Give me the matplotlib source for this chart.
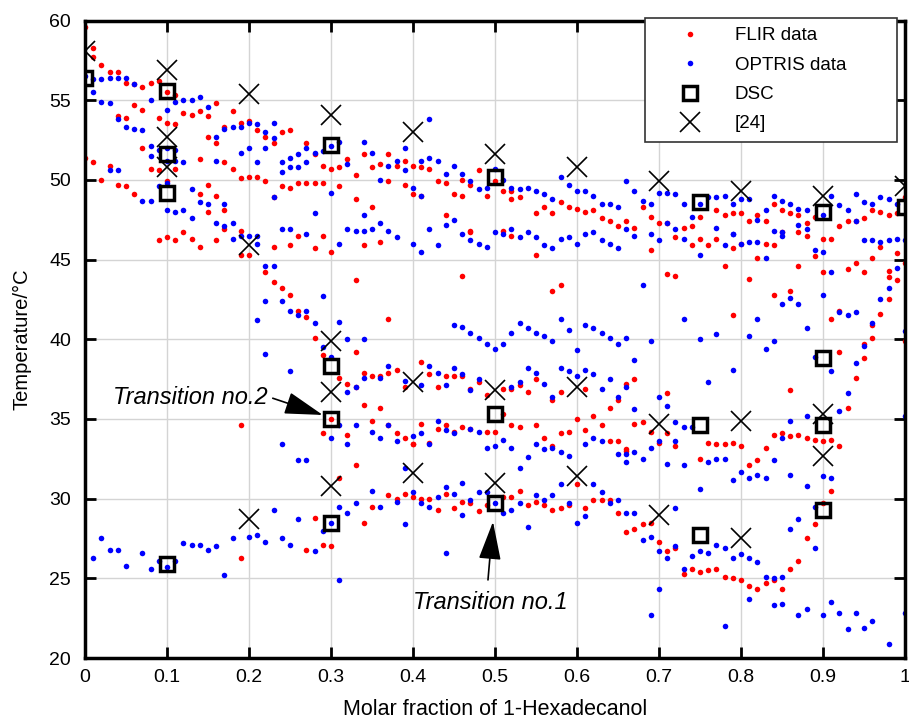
import numpy as np
import matplotlib.pyplot as plt

plt.rcParams['font.family'] = ['Liberation Sans', 'DejaVu Sans']

# FLIR camera readings (molar fraction, temperature in degC)
flir_high = [
    (0.00, 59.6), (0.01, 58.3), (0.01, 57.7), (0.02, 57.2), (0.03, 56.8), (0.04, 56.8), (0.05, 56.1),
    (0.06, 56.0), (0.07, 55.8), (0.08, 56.1), (0.09, 56.2), (0.10, 55.5), (0.11, 55.3),
    (0.04, 54.0), (0.05, 53.9), (0.06, 54.7), (0.07, 54.4), (0.09, 53.9), (0.10, 53.6), (0.11, 53.5),
    (0.12, 54.2), (0.13, 54.1), (0.14, 54.3), (0.15, 54.0), (0.16, 54.8), (0.18, 54.3),
    (0.15, 52.7), (0.16, 52.3), (0.17, 53.3), (0.19, 53.6), (0.20, 53.7), (0.21, 53.1), (0.22, 52.7),
    (0.23, 52.3), (0.24, 53.0), (0.25, 53.1), (0.27, 52.3), (0.28, 51.6), (0.29, 50.9), (0.30, 50.7),
    (0.31, 50.8), (0.07, 52.0), (0.08, 50.7), (0.09, 50.6), (0.10, 49.9), (0.11, 50.7), (0.14, 51.3),
    (0.15, 49.7), (0.17, 51.1), (0.18, 50.7), (0.19, 50.1), (0.20, 50.2), (0.21, 50.2), (0.22, 49.9),
    (0.23, 48.9), (0.24, 49.6), (0.25, 49.5), (0.26, 49.8), (0.27, 49.8), (0.28, 49.8), (0.29, 49.8),
    (0.31, 49.6), (0.00, 51.4), (0.01, 51.1), (0.02, 50.0), (0.03, 50.9), (0.04, 49.7), (0.05, 49.6),
    (0.06, 49.1), (0.14, 49.1), (0.15, 48.0), (0.16, 49.0), (0.17, 48.1), (0.19, 46.8),
    (0.32, 51.3), (0.33, 50.3), (0.33, 48.8), (0.34, 51.6), (0.35, 50.8), (0.36, 51.0), (0.37, 51.6),
    (0.37, 49.9), (0.35, 48.3), (0.38, 50.9), (0.39, 51.2), (0.39, 49.7), (0.40, 50.9), (0.40, 49.1),
    (0.41, 50.8), (0.41, 49.0), (0.42, 50.7), (0.43, 49.9), (0.44, 49.8), (0.44, 47.8), (0.45, 49.1),
    (0.46, 50.0), (0.46, 49.0), (0.47, 49.7), (0.48, 50.6), (0.49, 49.0), (0.50, 49.9), (0.51, 49.3),
    (0.52, 49.3), (0.52, 48.8), (0.53, 48.9), (0.55, 47.9), (0.56, 48.3), (0.57, 47.9), (0.58, 48.6),
    (0.59, 48.3), (0.60, 48.2), (0.61, 48.0), (0.62, 48.1), (0.63, 47.6), (0.64, 47.4), (0.65, 47.1),
    (0.66, 47.4), (0.47, 46.7), (0.51, 46.8),
    (0.68, 48.3), (0.69, 47.7), (0.67, 47.0), (0.70, 47.3), (0.71, 47.3), (0.73, 47.0), (0.74, 47.1),
    (0.75, 47.7), (0.77, 48.1), (0.78, 47.8), (0.79, 47.9), (0.80, 47.9), (0.81, 47.4), (0.82, 47.8),
    (0.83, 47.4), (0.84, 48.5), (0.85, 48.1), (0.86, 47.9), (0.87, 47.8), (0.88, 47.3), (0.89, 47.7),
    (0.92, 47.1), (0.93, 47.4), (0.94, 47.4), (0.95, 47.6), (0.96, 48.1), (0.97, 48.0), (0.98, 47.8),
    (0.99, 47.9), (1.00, 48.9),
]
flir_mid = [
    (0.09, 46.2), (0.10, 46.4), (0.11, 46.2), (0.12, 46.7), (0.13, 46.3), (0.14, 45.8), (0.16, 46.2),
    (0.17, 46.9), (0.19, 45.3), (0.20, 45.3), (0.23, 45.8), (0.25, 45.9), (0.26, 46.5), (0.28, 45.7),
    (0.29, 46.5), (0.30, 45.5), (0.22, 44.2), (0.23, 43.6), (0.24, 43.2), (0.25, 42.8), (0.26, 41.8),
    (0.27, 41.4), (0.28, 40.1), (0.29, 39.0), (0.31, 37.6), (0.19, 34.6), (0.29, 34.1), (0.30, 35.0),
    (0.34, 45.9), (0.36, 46.1), (0.33, 43.7), (0.37, 41.3), (0.46, 44.0), (0.47, 46.8), (0.52, 46.5),
    (0.55, 45.3), (0.57, 43.0), (0.58, 43.4), (0.33, 39.2),
    (0.32, 37.2), (0.33, 37.0), (0.34, 37.9), (0.35, 37.7), (0.36, 37.7), (0.37, 37.9), (0.38, 38.1),
    (0.39, 37.0), (0.41, 38.6), (0.42, 37.8), (0.43, 37.0), (0.44, 37.7), (0.45, 37.7), (0.46, 37.7),
    (0.47, 36.9), (0.48, 37.3), (0.49, 36.5), (0.51, 36.9), (0.52, 36.9), (0.53, 37.1), (0.54, 36.7),
    (0.55, 37.5), (0.57, 36.2), (0.58, 36.7), (0.60, 35.0), (0.61, 36.9), (0.62, 35.2), (0.64, 35.7),
    (0.65, 36.2), (0.34, 35.9), (0.36, 35.7), (0.35, 34.9), (0.32, 34.0), (0.37, 34.6), (0.38, 34.1),
    (0.39, 33.8), (0.40, 33.4), (0.41, 34.7), (0.42, 33.5), (0.43, 34.4), (0.44, 34.6), (0.45, 34.2),
    (0.46, 34.5), (0.47, 34.4), (0.49, 34.2), (0.50, 34.2), (0.51, 35.3), (0.52, 34.6), (0.53, 34.5),
    (0.55, 34.6), (0.56, 33.8), (0.57, 33.3), (0.58, 34.1), (0.59, 34.2), (0.61, 34.3), (0.63, 34.6),
    (0.64, 33.6), (0.65, 33.6), (0.66, 33.1),
    (0.69, 45.6), (0.72, 46.4), (0.74, 45.9), (0.75, 46.3), (0.76, 45.9), (0.77, 46.3), (0.79, 45.7),
    (0.80, 46.0), (0.82, 45.1), (0.83, 46.0), (0.84, 45.9), (0.85, 46.7), (0.87, 46.7), (0.88, 46.5),
    (0.89, 45.2), (0.90, 46.3), (0.91, 46.3), (0.71, 44.1), (0.72, 44.0), (0.78, 44.6), (0.81, 43.8),
    (0.84, 42.8), (0.86, 43.0), (0.87, 44.6), (0.90, 44.2), (0.91, 41.3), (0.92, 41.8), (0.93, 44.4),
    (0.94, 44.8), (0.95, 44.2), (0.96, 45.1), (0.97, 45.8), (0.98, 44.3), (0.99, 45.4), (0.98, 43.9),
    (0.99, 43.7), (0.98, 42.5), (0.97, 41.6), (0.96, 40.9), (0.96, 40.1), (0.95, 39.7), (0.95, 38.8),
    (0.94, 37.6), (0.93, 35.7), (0.92, 39.2), (1.00, 39.9), (1.00, 44.8), (0.79, 41.5), (0.86, 36.8),
    (0.66, 37.2), (0.67, 37.5), (0.71, 36.6), (0.67, 34.7), (0.68, 34.8), (0.69, 34.2), (0.71, 34.1),
    (0.70, 33.5), (0.72, 33.3), (0.76, 33.5), (0.77, 33.4), (0.78, 33.4), (0.79, 33.5), (0.80, 33.3),
    (0.83, 33.2), (0.84, 34.0), (0.85, 34.1), (0.86, 33.9), (0.87, 34.0), (0.88, 33.8), (0.89, 33.7),
    (0.90, 33.6), (0.91, 33.7), (0.92, 33.3),
]
flir_low = [
    (0.19, 26.3), (0.27, 26.8), (0.28, 28.8), (0.29, 27.1), (0.30, 27.0), (0.31, 31.3), (0.33, 32.1),
    (0.34, 28.5), (0.35, 29.5), (0.37, 30.2), (0.38, 30.0), (0.39, 30.3), (0.40, 30.1), (0.41, 30.0),
    (0.42, 30.0), (0.43, 29.3), (0.44, 30.3), (0.45, 29.4), (0.46, 29.8), (0.47, 29.7), (0.48, 29.2),
    (0.49, 29.6), (0.51, 30.1), (0.52, 30.1), (0.53, 30.5), (0.54, 29.6), (0.55, 29.8), (0.56, 29.6),
    (0.57, 29.3), (0.58, 29.4), (0.59, 29.6), (0.60, 30.9), (0.61, 29.4), (0.62, 29.9), (0.63, 29.9),
    (0.64, 29.9), (0.65, 29.1), (0.66, 27.9), (0.40, 33.4), (0.66, 33.0),
    (0.67, 28.1), (0.68, 28.4), (0.69, 28.5), (0.70, 27.3), (0.71, 26.7), (0.72, 26.9), (0.73, 25.3),
    (0.74, 25.6), (0.75, 25.4), (0.76, 25.5), (0.77, 25.6), (0.78, 25.1), (0.79, 25.0), (0.80, 24.9),
    (0.81, 24.5), (0.82, 24.3), (0.83, 24.7), (0.84, 24.9), (0.85, 24.3), (0.86, 25.6), (0.87, 26.1),
    (0.88, 27.5), (0.89, 28.4), (0.90, 29.7), (0.91, 30.5), (0.75, 32.5), (0.81, 32.1), (0.82, 32.4),
]

# OPTRIS camera readings
optris_high = [
    (0.00, 56.5), (0.01, 56.3), (0.01, 55.5), (0.02, 56.3), (0.03, 56.4), (0.04, 56.4), (0.05, 56.4),
    (0.06, 56.0), (0.02, 54.9), (0.03, 54.8), (0.04, 53.8), (0.05, 53.3), (0.06, 53.2), (0.07, 53.1),
    (0.08, 55.0), (0.10, 54.4), (0.11, 54.9), (0.12, 55.0), (0.13, 55.0), (0.14, 55.2), (0.15, 54.6),
    (0.08, 52.1), (0.08, 51.5), (0.09, 51.9), (0.10, 52.0), (0.11, 51.9), (0.11, 51.2), (0.12, 51.1),
    (0.10, 51.2), (0.16, 52.7), (0.17, 53.2), (0.18, 53.3), (0.19, 53.3), (0.20, 53.6), (0.21, 53.5),
    (0.22, 53.0), (0.23, 53.6), (0.23, 52.6), (0.19, 51.7), (0.20, 52.0), (0.21, 51.1), (0.22, 52.0),
    (0.16, 51.2), (0.27, 52.0), (0.28, 51.7), (0.29, 51.8), (0.30, 52.1), (0.24, 51.1), (0.25, 51.4),
    (0.26, 51.6), (0.24, 50.5), (0.25, 50.8), (0.26, 50.8), (0.27, 51.1), (0.30, 49.2), (0.03, 50.6),
    (0.04, 50.6), (0.07, 48.7), (0.08, 48.7), (0.09, 49.6), (0.10, 49.8), (0.10, 48.1), (0.11, 48.0),
    (0.12, 48.1), (0.13, 47.6), (0.13, 49.4), (0.14, 48.6), (0.15, 48.5), (0.16, 47.3), (0.17, 47.1),
    (0.17, 48.5), (0.18, 47.3), (0.23, 48.9), (0.24, 46.9), (0.25, 46.9), (0.28, 47.9),
    (0.31, 52.4), (0.32, 51.0), (0.34, 52.4), (0.35, 51.7), (0.36, 50.0), (0.37, 50.9), (0.38, 51.2),
    (0.39, 52.0), (0.39, 50.6), (0.40, 49.5), (0.41, 51.2), (0.41, 49.0), (0.42, 51.4), (0.42, 53.8),
    (0.43, 51.2), (0.44, 50.4), (0.45, 50.9), (0.46, 50.4), (0.47, 49.9), (0.48, 49.4), (0.49, 49.5),
    (0.50, 50.7), (0.51, 50.0), (0.52, 49.5), (0.53, 49.4), (0.54, 49.5), (0.55, 49.3), (0.56, 49.1),
    (0.57, 48.8), (0.58, 50.2), (0.59, 49.7), (0.60, 49.3), (0.61, 49.3), (0.62, 49.0), (0.63, 48.5),
    (0.64, 48.5), (0.65, 48.3), (0.66, 49.9), (0.66, 46.9), (0.32, 46.9), (0.33, 46.8), (0.34, 46.8),
    (0.35, 46.9), (0.36, 47.3), (0.37, 46.8), (0.34, 47.8), (0.42, 46.9), (0.44, 47.2), (0.45, 47.5),
    (0.46, 46.6), (0.50, 46.7), (0.51, 46.6), (0.52, 46.9), (0.54, 46.7), (0.61, 46.6), (0.62, 46.7),
    (0.67, 49.3), (0.68, 48.7), (0.69, 48.5), (0.70, 49.2), (0.71, 49.2), (0.72, 49.1), (0.73, 48.5),
    (0.74, 47.7), (0.75, 48.5), (0.76, 48.9), (0.77, 48.9), (0.78, 49.0), (0.79, 48.5), (0.80, 48.8),
    (0.81, 48.8), (0.83, 48.1), (0.84, 49.0), (0.85, 48.7), (0.86, 48.5), (0.87, 48.2), (0.88, 48.1),
    (0.90, 47.8), (0.91, 49.0), (0.92, 48.4), (0.93, 48.1), (0.94, 49.1), (0.95, 48.6), (0.96, 48.5),
    (0.97, 48.9), (0.98, 48.8), (0.99, 48.5), (0.71, 47.3), (0.72, 46.9), (0.77, 47.0), (0.79, 46.6),
    (0.82, 47.5), (0.85, 46.7), (0.87, 47.2), (0.88, 46.9), (0.94, 47.4),
]
optris_mid = [
    (0.18, 46.3), (0.19, 46.5), (0.20, 46.5), (0.21, 46.5), (0.21, 46.0), (0.27, 46.6), (0.22, 44.6),
    (0.23, 44.6), (0.22, 42.4), (0.24, 42.4), (0.25, 41.8), (0.26, 41.5), (0.27, 41.8), (0.28, 41.0),
    (0.29, 42.7), (0.21, 41.2), (0.22, 39.1), (0.25, 38.0), (0.29, 39.5), (0.30, 38.9), (0.31, 46.0),
    (0.31, 41.1), (0.30, 33.8), (0.24, 33.4),
    (0.38, 46.4), (0.40, 46.0), (0.41, 45.5), (0.43, 45.9), (0.47, 46.2), (0.48, 46.0), (0.49, 45.8),
    (0.53, 46.4), (0.55, 46.4), (0.56, 45.9), (0.57, 45.7), (0.58, 46.3), (0.59, 46.4), (0.60, 46.0),
    (0.63, 46.2), (0.64, 46.0), (0.65, 45.7), (0.32, 40.0), (0.34, 40.0), (0.45, 40.9), (0.46, 40.8),
    (0.47, 40.4), (0.48, 40.1), (0.49, 39.7), (0.50, 39.4), (0.51, 39.7), (0.52, 40.4), (0.53, 41.0),
    (0.54, 40.7), (0.55, 40.4), (0.56, 40.2), (0.57, 39.9), (0.58, 41.3), (0.59, 40.6), (0.60, 39.3),
    (0.61, 40.9), (0.62, 40.7), (0.63, 40.4), (0.64, 40.1), (0.65, 39.7), (0.66, 40.1),
    (0.32, 36.7), (0.33, 37.0), (0.34, 37.6), (0.36, 37.6), (0.37, 38.3), (0.39, 37.4), (0.41, 37.1),
    (0.42, 38.3), (0.43, 37.9), (0.44, 37.1), (0.45, 38.2), (0.46, 37.8), (0.47, 36.8), (0.48, 37.5),
    (0.52, 37.0), (0.53, 37.3), (0.54, 38.2), (0.55, 37.9), (0.56, 37.2), (0.57, 36.4), (0.58, 38.2),
    (0.59, 38.0), (0.60, 37.7), (0.61, 38.1), (0.62, 37.8), (0.63, 36.9), (0.64, 37.5), (0.65, 36.4),
    (0.66, 37.0), (0.31, 34.6), (0.33, 34.6), (0.35, 34.2), (0.36, 33.8), (0.37, 34.6), (0.38, 33.6),
    (0.40, 33.9), (0.41, 34.1), (0.42, 33.4), (0.43, 34.9), (0.44, 34.3), (0.45, 34.1), (0.47, 34.4),
    (0.48, 34.2), (0.49, 33.2), (0.50, 33.3), (0.51, 33.7), (0.52, 33.2), (0.55, 33.4), (0.57, 33.2),
    (0.61, 33.4), (0.62, 33.8), (0.63, 33.6),
    (0.67, 46.5), (0.69, 46.6), (0.70, 46.2), (0.73, 46.3), (0.75, 45.3), (0.78, 45.9), (0.79, 46.6),
    (0.80, 46.0), (0.81, 46.1), (0.82, 46.1), (0.83, 45.1), (0.84, 46.8), (0.85, 46.5), (0.89, 45.6),
    (0.90, 45.5), (0.91, 44.2), (0.90, 42.8), (0.95, 46.2), (0.96, 46.2), (0.97, 46.1), (0.98, 46.2),
    (0.99, 46.3), (1.00, 46.2), (0.99, 44.5), (0.98, 43.2), (0.97, 42.5), (0.96, 41.0), (0.95, 39.6),
    (0.94, 38.5), (0.93, 36.6), (0.92, 35.5), (0.91, 38.0), (0.89, 38.9), (0.88, 35.2), (0.86, 34.9),
    (0.68, 43.4), (0.73, 41.3), (0.75, 40.0), (0.77, 40.3), (0.81, 40.2), (0.82, 41.3), (0.83, 39.4),
    (0.84, 39.9), (0.85, 42.2), (0.86, 42.6), (0.87, 42.2), (0.88, 40.7), (0.92, 41.7), (0.93, 41.5),
    (0.94, 41.7), (1.00, 40.5), (1.00, 35.2), (0.69, 39.9), (0.67, 38.7), (0.67, 35.6), (0.70, 36.4),
    (0.71, 35.8), (0.76, 37.3), (0.79, 38.1), (0.72, 34.8), (0.73, 34.5), (0.74, 34.5), (0.70, 33.6),
    (0.72, 33.6), (0.69, 33.2), (0.85, 33.8),
]
optris_low = [
    (0.01, 26.3), (0.02, 27.5), (0.03, 26.8), (0.04, 26.8), (0.05, 25.8), (0.07, 26.6), (0.08, 25.6),
    (0.09, 26.1), (0.10, 25.7), (0.11, 26.1), (0.12, 27.2), (0.13, 27.1), (0.14, 27.1), (0.15, 26.8),
    (0.16, 27.0), (0.17, 25.2), (0.18, 27.5), (0.20, 27.6), (0.21, 27.7), (0.22, 27.3), (0.23, 29.3),
    (0.24, 27.5), (0.25, 27.1), (0.26, 28.7), (0.28, 26.7), (0.29, 28.0), (0.30, 28.5), (0.31, 29.5),
    (0.31, 24.9), (0.26, 32.4), (0.27, 32.4),
    (0.32, 29.1), (0.33, 29.7), (0.35, 30.5), (0.36, 29.5), (0.38, 29.8), (0.39, 28.4), (0.40, 30.4),
    (0.41, 29.7), (0.42, 29.5), (0.43, 30.1), (0.44, 30.7), (0.44, 26.6), (0.45, 30.3), (0.46, 31.0),
    (0.46, 29.0), (0.47, 29.9), (0.48, 30.4), (0.49, 30.4), (0.50, 29.7), (0.51, 29.1), (0.52, 29.3),
    (0.53, 29.7), (0.54, 28.2), (0.55, 30.2), (0.56, 29.9), (0.57, 30.2), (0.58, 30.9), (0.59, 29.7),
    (0.60, 28.5), (0.61, 28.9), (0.62, 30.9), (0.63, 30.4), (0.64, 29.7), (0.65, 29.9), (0.66, 29.1),
    (0.32, 33.4), (0.39, 31.9), (0.53, 31.9), (0.54, 32.6), (0.56, 33.1), (0.58, 32.9), (0.59, 32.7),
    (0.65, 32.8), (0.66, 32.3),
    (0.66, 32.8), (0.67, 32.9), (0.68, 32.5), (0.71, 32.2), (0.73, 32.1), (0.75, 30.6), (0.76, 32.3),
    (0.77, 32.5), (0.78, 32.5), (0.79, 31.2), (0.80, 31.7), (0.81, 31.3), (0.82, 31.5), (0.83, 31.3),
    (0.84, 32.4), (0.86, 31.5), (0.88, 30.8), (0.90, 31.4), (0.91, 31.3), (0.89, 29.5), (0.67, 29.1),
    (0.68, 27.4), (0.69, 27.6), (0.70, 26.7), (0.71, 26.3), (0.72, 27.0), (0.72, 29.4), (0.73, 25.6),
    (0.74, 26.4), (0.75, 26.7), (0.76, 26.6), (0.77, 27.1), (0.78, 26.9), (0.79, 26.3), (0.80, 26.5),
    (0.81, 26.3), (0.82, 26.0), (0.83, 25.1), (0.84, 25.0), (0.85, 25.1), (0.86, 28.1), (0.87, 28.7),
    (0.89, 26.9), (0.70, 24.3), (0.69, 22.7), (0.78, 22.0), (0.81, 23.7), (0.84, 23.3), (0.85, 23.4),
    (0.87, 22.7), (0.88, 23.1), (0.90, 22.7), (0.91, 23.5), (0.92, 22.8), (0.93, 21.8), (0.94, 22.8),
    (0.95, 21.9), (0.96, 22.3), (0.98, 20.9), (1.00, 22.8),
]

# DSC measurements
dsc_x = [0.0, 0.1, 0.1, 0.1, 0.1, 0.3, 0.3, 0.3, 0.3, 0.5, 0.5, 0.5,
         0.75, 0.75, 0.75, 0.9, 0.9, 0.9, 0.9, 1.0]
dsc_t = [56.4, 55.6, 51.6, 49.2, 25.9, 52.2, 38.3, 35.0, 28.5, 50.2, 35.3, 29.7,
         48.6, 34.6, 27.7, 48.0, 38.8, 34.6, 29.3, 48.3]

# literature values [24]
ref_x = [0.0, 0.1, 0.1, 0.1, 0.2, 0.2, 0.2, 0.3, 0.3, 0.3, 0.3, 0.4, 0.4, 0.4, 0.5, 0.5, 0.5,
         0.6, 0.6, 0.6, 0.7, 0.7, 0.7, 0.8, 0.8, 0.8, 0.9, 0.9, 0.9, 1.0]
ref_t = [58.1, 56.9, 52.7, 50.8, 55.4, 45.9, 28.7, 54.1, 39.9, 36.7, 30.8, 53.0, 37.3, 31.6,
         51.6, 36.8, 31.0, 50.8, 37.0, 31.4, 49.9, 34.7, 29.0, 49.3, 34.9, 27.5, 49.0, 35.3, 32.7, 49.6]

flir = np.array(flir_high + flir_mid + flir_low)
optris = np.array(optris_high + optris_mid + optris_low)

fig = plt.figure(figsize=(9.09, 7.2), dpi=100)
ax = fig.add_axes([0.0935, 0.0861, 0.902, 0.8854])

ax.plot(flir[:, 0], flir[:, 1], 'o', color='#ff0000', ms=4, mew=0, label='FLIR data')
ax.plot(optris[:, 0], optris[:, 1], 'o', color='#0000ff', ms=4, mew=0, label='OPTRIS data')
ax.plot(dsc_x, dsc_t, 's', mfc='none', mec='k', ms=9.5, mew=2.5, label='DSC')
ax.plot(ref_x, ref_t, 'x', color='k', ms=15, mew=1.2, label='[24]')

ax.set_xlim(0, 1)
ax.set_ylim(20, 60)
ax.set_xticks(np.arange(0, 1.01, 0.1))
ax.set_xticklabels(['0', '0.1', '0.2', '0.3', '0.4', '0.5', '0.6', '0.7', '0.8', '0.9', '1'])
ax.set_yticks(np.arange(20, 61, 5))
ax.grid(True, color='#d4d4d4', lw=1)
ax.set_axisbelow(True)
ax.tick_params(direction='in', length=8, width=2, top=True, right=True, labelsize=14)
ax.tick_params(axis='x', pad=8)
ax.tick_params(axis='y', pad=10)
for s in ax.spines.values():
    s.set_linewidth(2.5)

ax.set_xlabel('Molar fraction of 1-Hexadecanol', fontsize=15.5, labelpad=9)
ax.set_ylabel('Temperature/°C', fontsize=14.5, labelpad=13)

leg = ax.legend(loc='upper left', bbox_to_anchor=(0.683, 0.715, 0.307, 0.289), mode='expand',
                borderaxespad=0, fancybox=False, edgecolor='#333333', framealpha=1,
                fontsize=13.5, borderpad=0.5, labelspacing=0.65, handlelength=3.8, handletextpad=0.5)
leg.get_frame().set_linewidth(1.2)

arrow_kw = dict(arrowstyle='-|>,head_length=1.2,head_width=0.35', mutation_scale=20, color='k', lw=1.2,
                shrinkA=0, shrinkB=0)
ax.annotate('', xy=(0.29, 35.25), xytext=(0.229, 36.3), arrowprops=arrow_kw)
ax.text(0.223, 35.95, 'Transition no.2', ha='right', va='baseline', fontsize=17, style='italic')
ax.annotate('', xy=(0.4976, 28.55), xytext=(0.4915, 24.9), arrowprops=arrow_kw)
ax.text(0.4945, 23.1, 'Transition no.1', ha='center', va='baseline', fontsize=17, style='italic')

fig.savefig('out.png', dpi=100)
